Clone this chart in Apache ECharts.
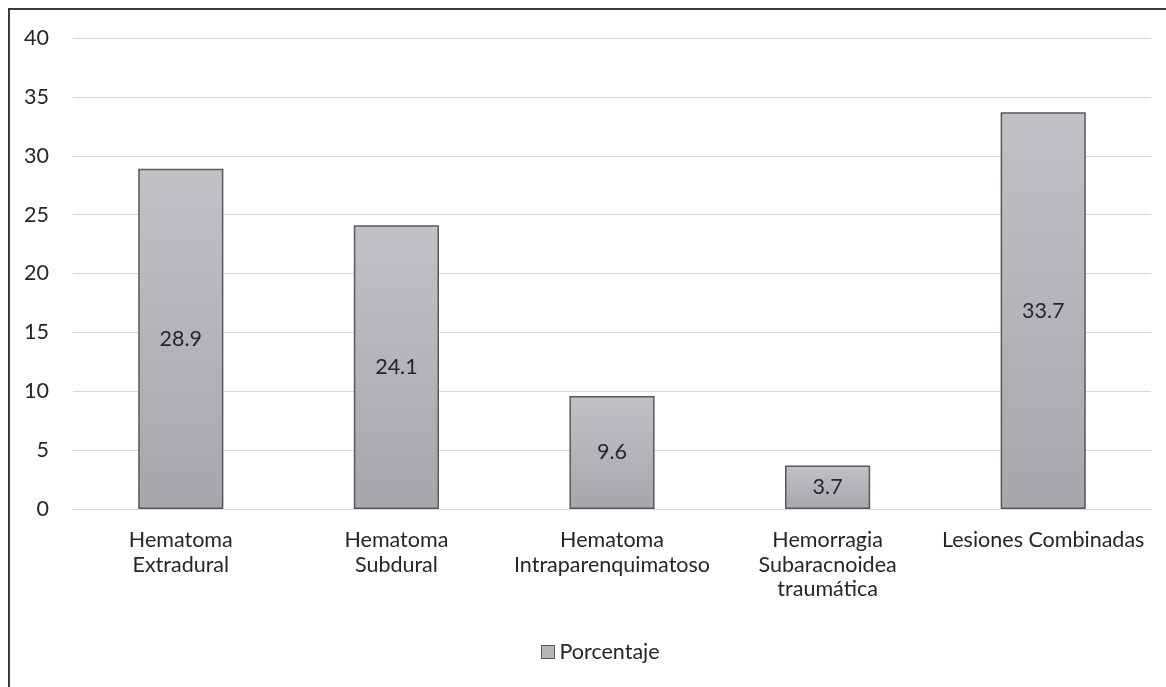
<!DOCTYPE html>
<html>
<head>
<meta charset="utf-8">
<script src="https://cdn.jsdelivr.net/npm/echarts@6/dist/echarts.min.js"></script>
<style>
html,body{margin:0;padding:0;background:#fff;}
#frame{position:absolute;left:8px;top:8px;width:1170px;height:700px;border-left:2px solid #3a3a3a;border-top:2px solid #3a3a3a;box-sizing:border-box;}
#chart{position:absolute;left:0;top:0;width:1166px;height:687px;}
</style>
</head>
<body>
<div id="frame"></div>
<div id="chart"></div>
<script>
const categories = ["Hematoma\nExtradural", "Hematoma\nSubdural", "Hematoma\nIntraparenquimatoso", "Hemorragia\nSubaracnoidea\ntraumática", "Lesiones Combinadas"];
const porcentaje = [28.9, 24.1, 9.6, 3.7, 33.7];
const seriesName = "Porcentaje";
const yMin = 0, yMax = 40, yStep = 5;

const chart = echarts.init(document.getElementById('chart'), null, {renderer: 'canvas'});
const font = 'Lato, "Open Sans", sans-serif';
const fs = 21.5;
chart.setOption({
  animation: false,
  backgroundColor: 'transparent',
  textStyle: {fontFamily: font},
  grid: {left: 73, right: 15, top: 38, bottom: 178, containLabel: false},
  legend: {
    data: [seriesName],
    top: 636,
    left: 536,
    itemWidth: 13, itemHeight: 13, itemGap: 6,
    icon: 'rect',
    textStyle: {fontFamily: font, fontSize: fs, color: '#262626'},
    itemStyle: {color: '#b5b6ba', borderColor: '#595959', borderWidth: 1}
  },
  xAxis: {
    type: 'category',
    data: categories,
    axisLine: {show: true, lineStyle: {color: '#d9d9d9', width: 1}},
    axisTick: {show: false},
    axisLabel: {fontFamily: font, fontSize: fs, color: '#262626', lineHeight: 24.5, margin: 19, interval: 0}
  },
  yAxis: {
    type: 'value',
    min: yMin, max: yMax, interval: yStep,
    axisLine: {show: false},
    axisTick: {show: false},
    splitLine: {lineStyle: {color: '#d9d9d9', width: 1}},
    axisLabel: {fontFamily: font, fontSize: fs, color: '#262626', margin: 24}
  },
  series: [{
    name: seriesName,
    type: 'bar',
    data: porcentaje,
    barWidth: '39.5%',
    itemStyle: {
      color: new echarts.graphic.LinearGradient(0, 0, 0, 1, [
        {offset: 0, color: '#c1c2c6'},
        {offset: 1, color: '#a6a7ab'}
      ]),
      borderColor: '#595959',
      borderWidth: 1.5
    },
    label: {
      show: true,
      position: 'inside',
      fontFamily: font,
      fontSize: fs,
      color: '#262626',
      formatter: p => p.value.toFixed(1)
    }
  }]
});
</script>
</body>
</html>
